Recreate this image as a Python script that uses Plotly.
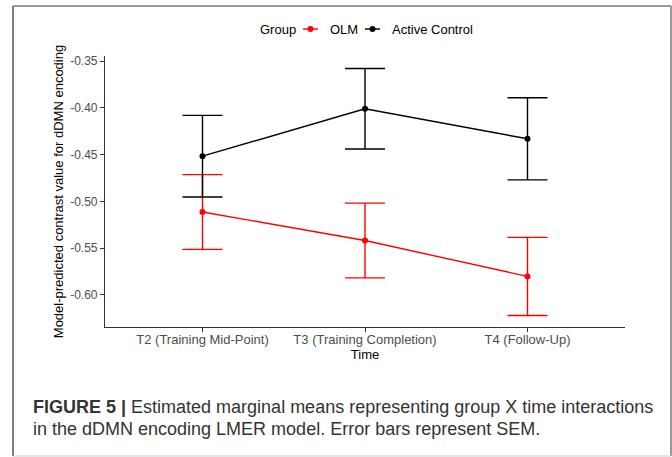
import plotly.graph_objects as go

# Data
time_labels = ["T2 (Training Mid-Point)", "T3 (Training Completion)", "T4 (Follow-Up)"]
olm_mean = [-0.5114, -0.5419, -0.5804]
olm_sem = [0.0400, 0.0400, 0.0418]
control_mean = [-0.4517, -0.4010, -0.4331]
control_sem = [0.0437, 0.0431, 0.0440]
y_tick_vals = [-0.60, -0.55, -0.50, -0.45, -0.40, -0.35]
y_tick_text = ["-0.60", "-0.55", "-0.50", "-0.45", "-0.40", "-0.35"]

W, H = 672, 457
L, R, T, B = 105, 47, 56, 130
pw, ph = W - L - R, H - T - B


def px(x):
    return (x - L) / pw


def py(y):
    return (H - B - y) / ph


FONT = "Liberation Sans, Arial, sans-serif"
series = [
    ("OLM", olm_mean, olm_sem, "#FF0000"),
    ("Active Control", control_mean, control_sem, "#000000"),
]

fig = go.Figure()
for name, mean, sem, color in series:
    fig.add_trace(go.Scatter(
        x=time_labels, y=mean, name=name, mode="lines+markers",
        line=dict(color=color, width=1.4),
        marker=dict(color=color, size=6),
        error_y=dict(type="data", array=sem, symmetric=True,
                     color=color, thickness=1.4, width=20),
        showlegend=False,
    ))

shapes = [
    dict(type="line", xref="paper", yref="paper", x0=px(13), x1=px(13),
         y0=py(6), y1=py(456), line=dict(color="#555555", width=1.5)),
    dict(type="line", xref="paper", yref="paper", x0=px(13), x1=px(671),
         y0=py(6), y1=py(6), line=dict(color="#777777", width=1.5)),
    dict(type="line", xref="paper", yref="paper", x0=px(671), x1=px(671),
         y0=py(6), y1=py(456), line=dict(color="#777777", width=1.5)),
    dict(type="line", xref="paper", yref="paper", x0=px(13), x1=px(671),
         y0=py(456), y1=py(456), line=dict(color="#cccccc", width=1)),
]
annotations = [
    dict(xref="paper", yref="paper", x=px(258), y=py(29), xanchor="left", yanchor="middle",
         showarrow=False, text="Group", font=dict(size=13, color="#000000", family=FONT)),
]
# manual legend (compact ggplot-style keys)
for (name, _, _, color), (kx0, tx) in zip(series, [(303, 328), (365, 390)]):
    shapes.append(dict(type="line", xref="paper", yref="paper", x0=px(kx0), x1=px(kx0 + 15),
                       y0=py(29), y1=py(29), line=dict(color=color, width=1.4)))
    shapes.append(dict(type="circle", xref="paper", yref="paper",
                       x0=px(kx0 + 7.5 - 3), x1=px(kx0 + 7.5 + 3),
                       y0=py(29 - 3), y1=py(29 + 3), fillcolor=color,
                       line=dict(color=color, width=0)))
    annotations.append(dict(xref="paper", yref="paper", x=px(tx), y=py(29), xanchor="left",
                            yanchor="middle", showarrow=False, text=name,
                            font=dict(size=13, color="#000000", family=FONT)))

annotations += [
    dict(xref="paper", yref="paper", x=px(31), y=py(407), xanchor="left", yanchor="middle",
         align="left", showarrow=False,
         text="<b>FIGURE 5 |</b> Estimated marginal means representing group X time interactions",
         font=dict(size=18, color="#333333", family=FONT)),
    dict(xref="paper", yref="paper", x=px(31), y=py(429), xanchor="left", yanchor="middle",
         align="left", showarrow=False,
         text="in the dDMN encoding LMER model. Error bars represent SEM.",
         font=dict(size=18, color="#333333", family=FONT)),
]

fig.update_layout(
    width=W, height=H,
    margin=dict(l=L, r=R, t=T, b=B, pad=0),
    paper_bgcolor="white", plot_bgcolor="white",
    font=dict(family=FONT, size=12, color="#000000"),
    showlegend=False,
    xaxis=dict(
        type="category", range=[-0.6, 2.6],
        showline=True, linecolor="#333333", linewidth=1.2,
        ticks="outside", ticklen=4, tickcolor="#333333", tickwidth=1.2,
        tickfont=dict(size=13, color="#4d4d4d"),
        ticklabelstandoff=-4,
        showgrid=False, zeroline=False,
        title=dict(text="Time", font=dict(size=13), standoff=3),
    ),
    yaxis=dict(
        range=[-0.6345, -0.3445],
        tickvals=y_tick_vals, ticktext=y_tick_text,
        showline=True, linecolor="#333333", linewidth=1.2,
        ticks="outside", ticklen=4, tickcolor="#333333", tickwidth=1.2,
        tickfont=dict(size=12, color="#4d4d4d"),
        showgrid=False, zeroline=False,
        title=dict(text="Model-predicted contrast value for dDMN encoding",
                   font=dict(size=13), standoff=3),
    ),
    shapes=shapes,
    annotations=annotations,
)

fig.write_html("out.html", config={"displayModeBar": False},
               post_script="document.body.style.margin='0';")
